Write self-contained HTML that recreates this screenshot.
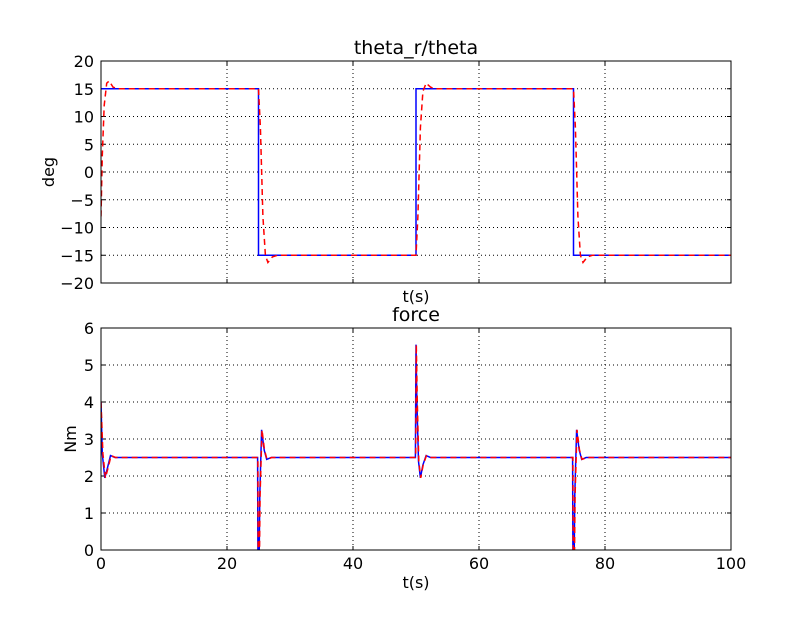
<!DOCTYPE html>
<html><head><meta charset="utf-8"><style>
body{margin:0;background:#fff;}
svg text{font-family:"DejaVu Sans","Liberation Sans",sans-serif;}
</style></head><body>
<svg width="812" height="612" xmlns="http://www.w3.org/2000/svg">
<rect width="812" height="612" fill="#fff"/>
<defs>
<clipPath id="c1"><rect x="101" y="61" width="630" height="222"/></clipPath>
<clipPath id="c2"><rect x="101" y="328" width="630" height="222"/></clipPath>
</defs>
<g id="top"></g>
<g id="bot"></g>
</svg>
<script>
const xTicks=[0,20,40,60,80,100];
const thetaTicks=[-20,-15,-10,-5,0,5,10,15,20];
const forceTicks=[0,1,2,3,4,5,6];
const thetaRefT=[0,25,25,50,50,75,75,100];
const thetaRefV=[15,15,-15,-15,15,15,-15,-15];
const thetaT=[0,0.2,0.5,0.9,1.3,1.9,2.6,25,25.3,25.7,26.1,26.5,27.2,28,50,50.3,50.7,51.1,51.6,52.3,53,75,75.3,75.7,76.1,76.5,77.2,78,100];
const thetaV=[-8,3,12,16,16.4,15.3,15,15,8,-8,-15,-16.3,-15.3,-15,-15,-8,8,14.5,16,15.3,15,15,8,-8,-15,-16.3,-15.3,-15,-15];
const forceT=[0,0.2,0.6,1.0,1.5,2.2,24.85,24.9,25.0,25.2,25.5,25.9,26.3,27,49.9,50.0,50.15,50.4,50.7,51.1,51.6,52.3,74.85,74.9,75.0,75.2,75.5,75.9,76.3,77,100];
const forceV=[4.0,2.6,1.95,2.2,2.55,2.5,2.5,0,-2,1.5,3.25,2.7,2.45,2.5,2.5,5.55,4.0,2.4,1.95,2.3,2.55,2.5,2.5,0,-2,1.5,3.25,2.7,2.45,2.5,2.5];
const forceRT=[0,0.3,0.7,1.1,1.6,2.3,24.9,24.95,25.05,25.25,25.55,25.95,26.35,27.1,49.95,50.05,50.2,50.45,50.75,51.15,51.65,52.4,74.9,74.95,75.05,75.25,75.55,75.95,76.35,77.1,100];
const NS="http://www.w3.org/2000/svg";
function mk(p,tag,a){const e=document.createElementNS(NS,tag);for(const k in a)e.setAttribute(k,a[k]);p.appendChild(e);return e;}
const X=t=>101+t*6.3;
function axes(g,top,ymin,ymax,ticks,title,ylab,clip,showX){
  const Y=v=>top+222-(v-ymin)/(ymax-ymin)*222;
  xTicks.forEach(t=>{if(t>0&&t<100){const l=mk(g,'line',{x1:X(t),x2:X(t),y1:top,y2:top+222,stroke:'#000','stroke-dasharray':'1,3','stroke-width':1});}});
  ticks.forEach(v=>{if(v>ymin&&v<ymax){const l=mk(g,'line',{x1:101,x2:731,y1:Y(v),y2:Y(v),stroke:'#000','stroke-dasharray':'1,3','stroke-width':1});}
    const tx=mk(g,'text',{x:94,y:Y(v)+6,'text-anchor':'end','font-size':16});tx.textContent=String(v).replace('-','\u2212');
    
    mk(g,'line',{x1:101,x2:105,y1:Y(v),y2:Y(v),stroke:'#000'});mk(g,'line',{x1:727,x2:731,y1:Y(v),y2:Y(v),stroke:'#000'});});
  xTicks.forEach(t=>{mk(g,'line',{x1:X(t),x2:X(t),y1:top+222,y2:top+218,stroke:'#000'});mk(g,'line',{x1:X(t),x2:X(t),y1:top,y2:top+4,stroke:'#000'});
    if(showX){const tx=mk(g,'text',{x:X(t),y:top+241,'text-anchor':'middle','font-size':16});tx.textContent=t;
    }});
  const tt=mk(g,'text',{x:416,y:top-7,'text-anchor':'middle','font-size':19});tt.textContent=title;
  
  const xl=mk(g,'text',{x:416,y:top+241+(showX?19:0),'text-anchor':'middle','font-size':16});xl.textContent='t(s)';
  
  const yl=mk(g,'text',{x:0,y:0,'text-anchor':'middle','font-size':16,transform:`translate(${top<100?54:76},${top+111}) rotate(-90)`});yl.textContent=ylab;
  
  return Y;
}
function line(g,T,V,Y,color,dash,clip,name){
  const d=T.map((t,i)=>(i?'L':'M')+X(t).toFixed(1)+','+Y(V[i]).toFixed(1)).join('');
  const p=mk(g,'path',{d,fill:'none',stroke:color,'stroke-width':1.5,'clip-path':`url(#${clip})`});
  if(dash)p.setAttribute('stroke-dasharray','6,4');
  
}
const g1=document.getElementById('top'),g2=document.getElementById('bot');
const Y1=axes(g1,61,-20,20,thetaTicks,'theta_r/theta','deg','c1',false);
line(g1,thetaRefT,thetaRefV,Y1,'#0000ff',false,'c1','theta-ref-line');
line(g1,thetaT,thetaV,Y1,'#ff0000',true,'c1','theta-line');
mk(g1,'rect',{x:101,y:61,width:630,height:222,fill:'none',stroke:'#000'});
const Y2=axes(g2,328,0,6,forceTicks,'force','Nm','c2',true);
line(g2,forceT,forceV,Y2,'#0000ff',false,'c2','force-line');
line(g2,forceRT,forceV,Y2,'#ff0000',true,'c2','force-ref-line');
mk(g2,'rect',{x:101,y:328,width:630,height:222,fill:'none',stroke:'#000'});
</script>
</body></html>
